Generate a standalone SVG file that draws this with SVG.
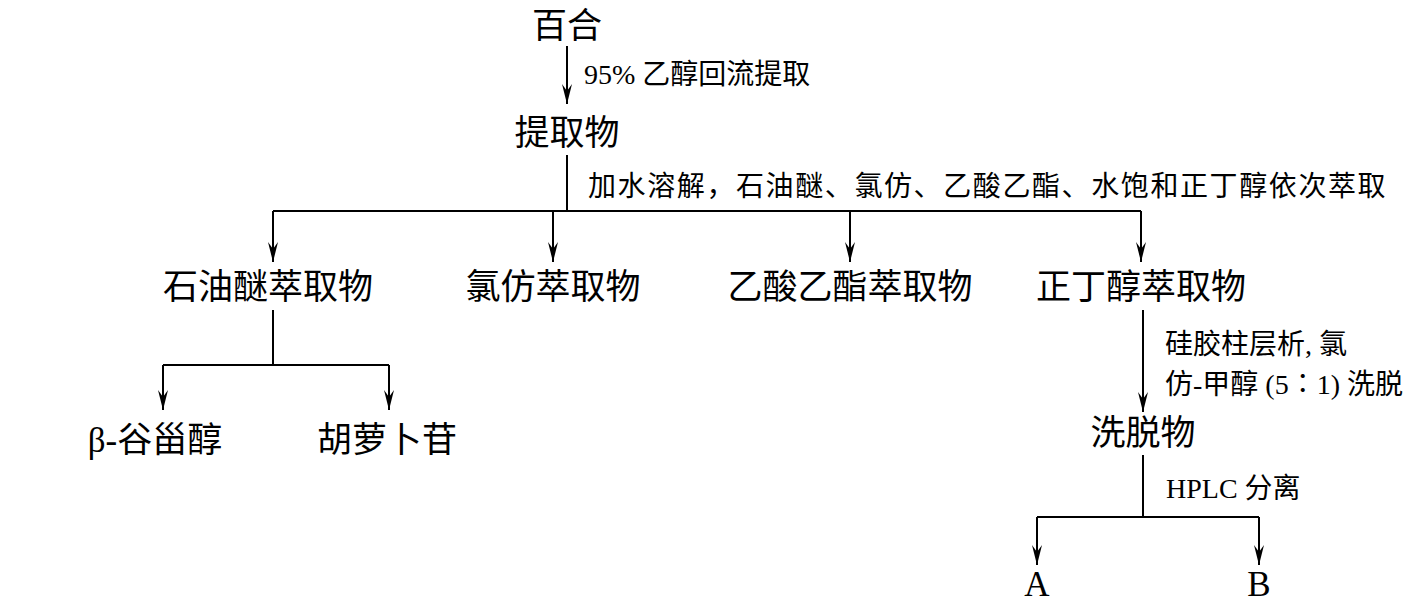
<svg xmlns="http://www.w3.org/2000/svg" width="1410" height="605" viewBox="0 0 1410 605">
<style>
text{font-family:"Liberation Serif","Noto Sans CJK SC",serif;fill:#000}
.n{font-size:35px;text-anchor:middle}
.l{font-size:28px}
.c{stroke:#000;stroke-width:2;fill:none}
</style>
<defs><marker id="a" viewBox="0 0 20 10" refX="20" refY="5" markerWidth="20" markerHeight="10" markerUnits="userSpaceOnUse" orient="auto"><path d="M0,0 L20,5 L0,10 L7,5 Z" fill="#000"/></marker></defs>
<g id="connectors">
<path class="c" d="M567,46 V104" marker-end="url(#a)"/>
<path class="c" d="M567,155 V211 M273,211 H1141"/>
<path class="c" d="M273,211 V262" marker-end="url(#a)"/>
<path class="c" d="M553,211 V262" marker-end="url(#a)"/>
<path class="c" d="M850,211 V262" marker-end="url(#a)"/>
<path class="c" d="M1141,211 V262" marker-end="url(#a)"/>
<path class="c" d="M273,310 V365 M163,365 H389"/>
<path class="c" d="M163,365 V410" marker-end="url(#a)"/>
<path class="c" d="M389,365 V410" marker-end="url(#a)"/>
<path class="c" d="M1143,310 V412" marker-end="url(#a)"/>
<path class="c" d="M1143,455 V517 M1037,517 H1259"/>
<path class="c" d="M1037,517 V565" marker-end="url(#a)"/>
<path class="c" d="M1259,517 V565" marker-end="url(#a)"/>
<text class="l" x="584" y="84">95% 乙醇回流提取</text>
<text class="l" x="588" y="196" letter-spacing="1.6">加水溶解，石油醚、氯仿、乙酸乙酯、水饱和正丁醇依次萃取</text>
<text class="l" x="1165" y="354">硅胶柱层析, 氯</text>
<text class="l" x="1165" y="394">仿-甲醇 (5∶1) 洗脱</text>
<text class="l" x="1166" y="498">HPLC 分离</text>
</g>
<g id="n1"><text class="n" x="567" y="38">百合</text></g>
<g id="n2"><text class="n" x="567" y="145">提取物</text></g>
<g id="n3"><text class="n" x="268" y="299">石油醚萃取物</text></g>
<g id="n4"><text class="n" x="553" y="299">氯仿萃取物</text></g>
<g id="n5"><text class="n" x="850" y="299">乙酸乙酯萃取物</text></g>
<g id="n6"><text class="n" x="1141" y="299">正丁醇萃取物</text></g>
<g id="n7"><text class="n" x="155" y="452">β-谷甾醇</text></g>
<g id="n8"><text class="n" x="387" y="452">胡萝卜苷</text></g>
<g id="n9"><text class="n" x="1143" y="445">洗脱物</text></g>
<g id="n10"><text class="n" x="1037" y="596">A</text></g>
<g id="n11"><text class="n" x="1259" y="596">B</text></g>
</svg>
